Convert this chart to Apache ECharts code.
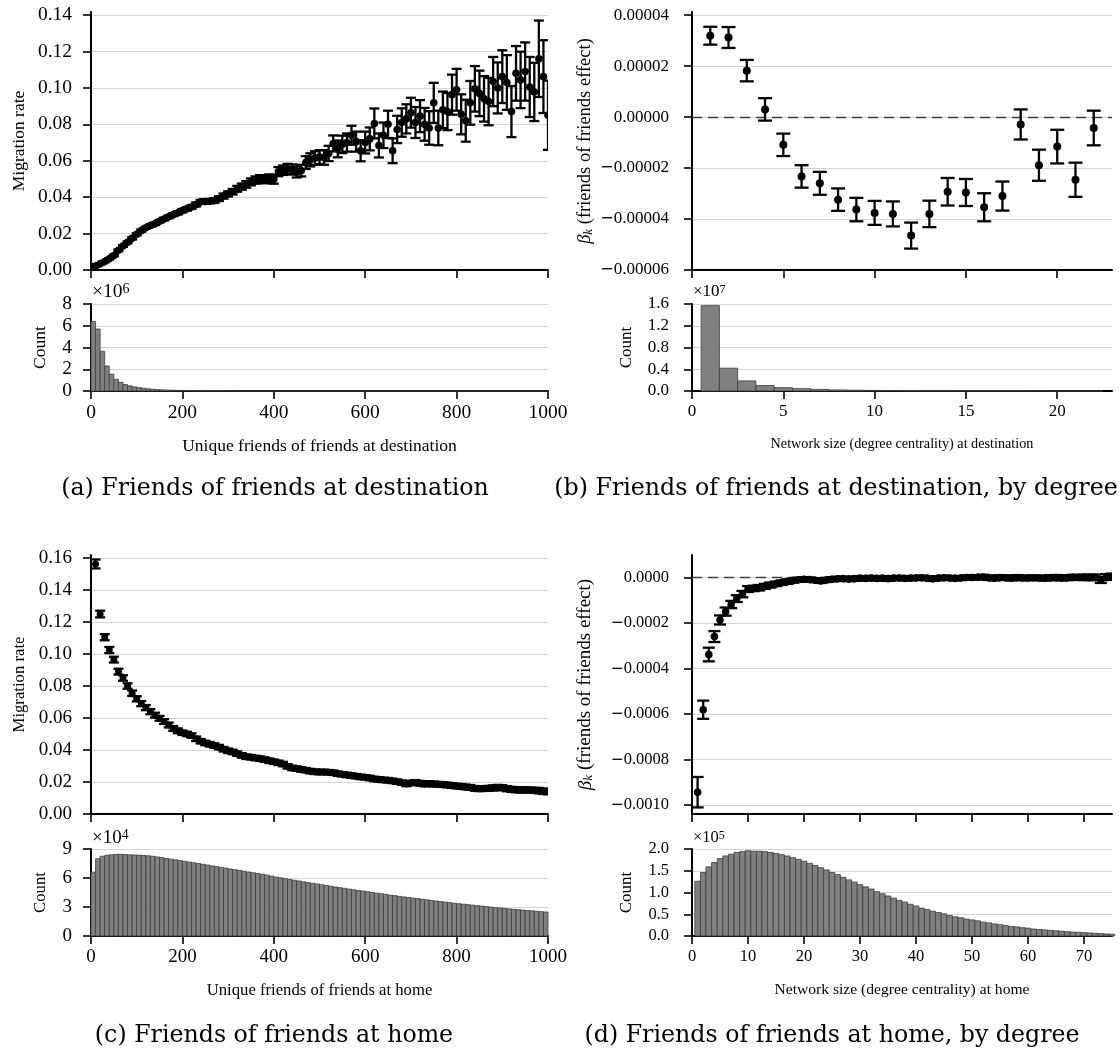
<!DOCTYPE html>
<html><head><meta charset="utf-8">
<script src="https://cdn.jsdelivr.net/npm/echarts@6/dist/echarts.min.js"></script>
<style>html,body{margin:0;padding:0;background:#fff}#c{width:1120px;height:1055px}</style>
</head><body><div id="c"></div>
<script>
// ---------- (a) Friends of friends at destination ----------
const A_X = [0,10,20,30,40,50,60,70,80,90,100,110,120,130,140,150,160,170,180,190,200,210,220,230,240,250,260,270,280,290,300,310,320,330,340,350,360,370,380,390,400,410,420,430,440,450,460,470,480,490,500,510,520,530,540,550,560,570,580,590,600,610,620,630,640,650,660,670,680,690,700,710,720,730,740,750,760,770,780,790,800,810,820,830,840,850,860,870,880,890,900,910,920,930,940,950,960,970,980,990,1000];
const A_RATE = [0.0020,0.0022,0.0034,0.0046,0.0062,0.0080,0.0108,0.0132,0.0152,0.0174,
0.0196,0.0216,0.0232,0.0244,0.0254,0.0268,0.0280,0.0292,0.0304,0.0314,
0.0326,0.0336,0.0346,0.0360,0.0374,0.0376,0.0378,0.0382,0.0392,0.0406,
0.0418,0.0430,0.0446,0.0458,0.0470,0.0484,0.0494,0.0500,0.0498,0.0502,
0.0498,0.0540,0.0548,0.0556,0.0552,0.0538,0.0546,0.0590,0.0605,0.0615,
0.0620,0.0618,0.0640,0.0695,0.0665,0.0690,0.0700,0.0740,0.0705,0.0655,
0.0700,0.0720,0.0805,0.0684,0.0740,0.0800,0.0655,0.0772,0.0810,0.0830,
0.0864,0.0810,0.0845,0.0800,0.0780,0.0918,0.0780,0.0880,0.0870,0.0963,
0.0990,0.0855,0.0820,0.0918,0.0995,0.0970,0.0940,0.0925,0.1035,0.1000,
0.1062,0.1030,0.0870,0.1080,0.1044,0.1090,0.1005,0.0978,0.1160,0.1062,
0.0850];
const A_ERR = [0.0004,0.0004,0.0004,0.0004,0.0004,0.0005,0.0005,0.0005,0.0005,0.0006,
0.0006,0.0006,0.0006,0.0007,0.0007,0.0007,0.0008,0.0008,0.0008,0.0009,
0.0009,0.0010,0.0010,0.0011,0.0011,0.0012,0.0012,0.0013,0.0013,0.0014,
0.0014,0.0015,0.0016,0.0017,0.0018,0.0019,0.0020,0.0021,0.0022,0.0023,
0.0024,0.0025,0.0026,0.0027,0.0028,0.0030,0.0032,0.0035,0.0036,0.0037,
0.0038,0.0040,0.0042,0.0044,0.0046,0.0048,0.0050,0.0052,0.0055,0.0058,
0.0060,0.0063,0.0082,0.0066,0.0070,0.0075,0.0068,0.0075,0.0078,0.0080,
0.0082,0.0085,0.0088,0.0090,0.0092,0.0110,0.0095,0.0100,0.0102,0.0110,
0.0115,0.0110,0.0115,0.0120,0.0125,0.0125,0.0125,0.0130,0.0135,0.0140,
0.0145,0.0150,0.0140,0.0150,0.0155,0.0160,0.0165,0.0160,0.0210,0.0200,
0.0190];
const A_HIST_X = [5,15,25,35,45,55,65,75,85,95,105,115,125,135,145,155,165,175,185,195,205,215,225,235,245,255,265,275,285,295,305,315,325,335,345,355,365,375,385,395,405,415,425,435,445,455,465,475,485,495,505,515,525,535,545,555,565,575,585,595,605,615,625,635,645,655,665,675,685,695,705,715,725,735,745,755,765,775,785,795,805,815,825,835,845,855,865,875,885,895,905,915,925,935,945,955,965,975,985,995];
const A_HIST = [6.40,5.70,3.65,2.30,1.55,1.08,0.80,0.60,0.47,0.38,
0.31,0.25,0.20,0.16,0.13,0.11,0.090,0.075,0.063,0.053,
0.045,0.038,0.032,0.027,0.023,0.020,0.017,0.015,0.013,0.011,
0.010,0.009,0.008,0.007,0.0062,0.0055,0.0049,0.0044,0.0040,0.0036,
0.0032,0.0029,0.0026,0.0024,0.0022,0.0020,0.0018,0.0016,0.0015,0.0014,
0.0013,0.0012,0.0011,0.0010,0.0009,0.0009,0.0008,0.0008,0.0007,0.0007,
0.0006,0.0006,0.0006,0.0005,0.0005,0.0005,0.0004,0.0004,0.0004,0.0004,
0.0003,0.0003,0.0003,0.0003,0.0003,0.0003,0.0002,0.0002,0.0002,0.0002,
0.0002,0.0002,0.0002,0.0002,0.0001,0.0001,0.0001,0.0001,0.0001,0.0001,
0.0001,0.0001,0.0001,0.0001,0.0001,0.0001,0.0001,0.0001,0.0001,0.0001];
const A_Y_TICKS = [0,0.02,0.04,0.06,0.08,0.10,0.12,0.14];
const A_HIST_TICKS = [0,2,4,6,8];
const AC_X_TICKS = [0,200,400,600,800,1000];

// ---------- (b) Friends of friends at destination, by degree ----------
const B_DEG = [1,2,3,4,5,6,7,8,9,10,11,12,13,14,15,16,17,18,19,20,21,22];
const B_BETA = [3.19e-5,3.12e-5,1.82e-5,0.30e-5,-1.09e-5,-2.33e-5,-2.60e-5,-3.24e-5,-3.63e-5,-3.76e-5,-3.80e-5,-4.65e-5,-3.80e-5,-2.93e-5,-2.96e-5,-3.54e-5,-3.10e-5,-0.29e-5,-1.89e-5,-1.16e-5,-2.46e-5,-0.43e-5];
const B_ERR = [0.35e-5,0.41e-5,0.42e-5,0.44e-5,0.44e-5,0.44e-5,0.45e-5,0.44e-5,0.46e-5,0.47e-5,0.49e-5,0.51e-5,0.52e-5,0.54e-5,0.53e-5,0.55e-5,0.57e-5,0.59e-5,0.61e-5,0.66e-5,0.67e-5,0.68e-5];
const B_HIST = [1.57,0.42,0.186,0.10,0.062,0.043,0.030,0.020,0.015,0.011,0.009,0.007,0.0055,0.0045,0.0037,0.0030,0.0025,0.0021,0.0018,0.0015,0.0013,0.0011];
const B_Y_TICKS = [-0.00006,-0.00004,-0.00002,0,0.00002,0.00004];
const B_HIST_TICKS = [0,0.4,0.8,1.2,1.6];
const B_X_TICKS = [0,5,10,15,20];

// ---------- (c) Friends of friends at home ----------
const C_X = [10,20,30,40,50,60,70,80,90,100,110,120,130,140,150,160,170,180,190,200,210,220,230,240,250,260,270,280,290,300,310,320,330,340,350,360,370,380,390,400,410,420,430,440,450,460,470,480,490,500,510,520,530,540,550,560,570,580,590,600,610,620,630,640,650,660,670,680,690,700,710,720,730,740,750,760,770,780,790,800,810,820,830,840,850,860,870,880,890,900,910,920,930,940,950,960,970,980,990,1000];
const C_RATE = [0.1563,0.1250,0.1105,0.1025,0.0965,0.0890,0.0850,0.0800,0.0755,0.0720,
0.0690,0.0665,0.0640,0.0618,0.0598,0.0578,0.0556,0.0535,0.0520,0.0508,
0.0500,0.0490,0.0470,0.0455,0.0444,0.0436,0.0428,0.0418,0.0405,0.0395,
0.0388,0.0377,0.0366,0.0358,0.0355,0.0350,0.0346,0.0340,0.0333,0.0327,
0.0320,0.0312,0.0298,0.0288,0.0284,0.0278,0.0274,0.0268,0.0264,0.0262,
0.0263,0.0261,0.0258,0.0252,0.0248,0.0244,0.0240,0.0236,0.0232,0.0229,
0.0225,0.0219,0.0216,0.0213,0.0211,0.0207,0.0202,0.0196,0.0188,0.0194,
0.0197,0.0192,0.0188,0.0190,0.0187,0.0186,0.0184,0.0181,0.0178,0.0175,
0.0172,0.0169,0.0166,0.0160,0.0158,0.0159,0.0161,0.0163,0.0166,0.0164,
0.0158,0.0154,0.0152,0.0150,0.0151,0.0150,0.0148,0.0146,0.0142,0.0140];
const C_ERR = [0.0028,0.0021,0.0019,0.0019,0.0018,0.0018,0.0017,0.0017,0.0017,0.0016,
0.0016,0.0016,0.0016,0.0015,0.0015,0.0015,0.0015,0.0015,0.0015,0.0014,
0.0014,0.0014,0.0014,0.0014,0.0014,0.0014,0.0014,0.0014,0.0014,0.0014,
0.0014,0.0014,0.0014,0.0014,0.0014,0.0014,0.0014,0.0014,0.0014,0.0014,
0.0014,0.0014,0.0014,0.0014,0.0014,0.0014,0.0014,0.0014,0.0014,0.0014,
0.0014,0.0014,0.0014,0.0014,0.0014,0.0014,0.0014,0.0014,0.0014,0.0014,
0.0014,0.0014,0.0014,0.0014,0.0014,0.0014,0.0014,0.0014,0.0014,0.0014,
0.0015,0.0015,0.0015,0.0015,0.0015,0.0015,0.0015,0.0015,0.0015,0.0015,
0.0015,0.0015,0.0015,0.0015,0.0015,0.0015,0.0015,0.0016,0.0016,0.0016,
0.0016,0.0016,0.0016,0.0016,0.0016,0.0016,0.0016,0.0017,0.0017,0.0017];
const C_HIST_X = A_HIST_X;
const C_HIST = [6.60,8.00,8.25,8.35,8.40,8.45,8.45,8.42,8.40,8.38,
8.36,8.33,8.30,8.25,8.18,8.10,8.02,7.95,7.88,7.80,
7.72,7.65,7.58,7.50,7.42,7.34,7.25,7.17,7.10,7.02,
6.93,6.86,6.78,6.70,6.62,6.54,6.46,6.38,6.30,6.20,
6.10,6.02,5.93,5.85,5.77,5.69,5.60,5.52,5.45,5.38,
5.30,5.22,5.15,5.07,5.00,4.93,4.85,4.78,4.71,4.65,
4.58,4.50,4.43,4.37,4.30,4.23,4.17,4.10,4.04,3.98,
3.92,3.86,3.80,3.74,3.68,3.62,3.56,3.51,3.45,3.39,
3.34,3.29,3.24,3.19,3.14,3.09,3.04,2.99,2.94,2.90,
2.85,2.80,2.76,2.72,2.68,2.64,2.60,2.56,2.52,2.48];
const C_Y_TICKS = [0,0.02,0.04,0.06,0.08,0.10,0.12,0.14,0.16];
const C_HIST_TICKS = [0,3,6,9];

// ---------- (d) Friends of friends at home, by degree ----------
const D_DEG = [1,2,3,4,5,6,7,8,9,10,11,12,13,14,15,16,17,18,19,20,21,22,23,24,25,26,27,28,29,30,31,32,33,34,35,36,37,38,39,40,41,42,43,44,45,46,47,48,49,50,51,52,53,54,55,56,57,58,59,60,61,62,63,64,65,66,67,68,69,70,71,72,73,74,75];
const D_BETA = [-0.000944,-0.000581,-0.000338,-0.000259,-0.000186,-0.000149,-0.000118,-0.000092,-0.000072,-0.000050,
-0.000047,-0.000044,-0.000038,-0.000032,-0.000027,-0.000022,-0.000017,-0.000013,-0.000009,-0.000007,
-0.000008,-0.000011,-0.000014,-0.000010,-0.000007,-0.000005,-0.000004,-0.000006,-0.000004,-0.000002,
-0.000003,-0.000001,-0.000003,-0.000002,-0.000004,-0.000002,-0.000001,-0.000003,-0.000002,-0.000001,
0.000000,-0.000002,-0.000005,-0.000002,0.000000,-0.000001,-0.000003,-0.000001,0.000001,0.000001,
0.000002,0.000003,0.000000,-0.000002,0.000001,0.000000,-0.000002,0.000001,-0.000001,-0.000001,
0.000000,-0.000001,-0.000002,0.000000,0.000001,-0.000001,0.000000,0.000002,0.000001,0.000002,
0.000001,0.000002,-0.000010,0.000003,0.000005];
const D_ERR = [0.000067,0.000040,0.000030,0.000024,0.000020,0.000018,0.000016,0.000015,0.000014,0.000013,
0.000012,0.000012,0.000011,0.000011,0.000010,0.000010,0.000010,0.000009,0.000009,0.000009,
0.000009,0.000009,0.000009,0.000009,0.000009,0.000009,0.000009,0.000009,0.000009,0.000009,
0.000009,0.000009,0.000009,0.000009,0.000009,0.000009,0.000009,0.000009,0.000009,0.000009,
0.000009,0.000009,0.000009,0.000009,0.000009,0.000009,0.000009,0.000009,0.000009,0.000009,
0.000009,0.000010,0.000010,0.000010,0.000010,0.000010,0.000010,0.000010,0.000010,0.000010,
0.000010,0.000010,0.000010,0.000011,0.000011,0.000011,0.000011,0.000011,0.000011,0.000012,
0.000012,0.000012,0.000013,0.000013,0.000013];
const D_HIST = [1.26,1.46,1.59,1.69,1.78,1.84,1.88,1.92,1.94,1.96,
1.95,1.95,1.94,1.92,1.90,1.87,1.84,1.80,1.76,1.72,
1.67,1.62,1.57,1.52,1.46,1.41,1.35,1.29,1.24,1.18,
1.13,1.08,1.02,0.97,0.92,0.87,0.82,0.78,0.73,0.69,
0.64,0.61,0.57,0.54,0.51,0.47,0.44,0.42,0.39,0.37,
0.35,0.32,0.30,0.28,0.26,0.24,0.22,0.21,0.19,0.18,
0.16,0.15,0.14,0.13,0.12,0.11,0.10,0.09,0.085,0.078,
0.070,0.062,0.055,0.048,0.040];
const D_Y_TICKS = [-0.0010,-0.0008,-0.0006,-0.0004,-0.0002,0];
const D_HIST_TICKS = [0,0.5,1.0,1.5,2.0];
const D_X_TICKS = [0,10,20,30,40,50,60,70];

// ---------- helpers ----------
const SERIF = '"Liberation Serif","Times New Roman",serif';
const CAPFONT = '"DejaVu Serif",serif';
function fmt(v, d) { return (v < -1e-12 ? '{m|\u2212}' : '') + Math.abs(v).toFixed(d); }

function yAx(g, min, max, ticks, dec, fs, name, nfs, gap, margin) {
  return {
    type: 'value', gridIndex: g, min: min, max: max,
    axisLine: { show: true, onZero: false, lineStyle: { color: '#000', width: 2 } },
    axisTick: { show: true, length: 8, lineStyle: { color: '#000', width: 1.6 }, customValues: ticks },
    axisLabel: { show: true, customValues: ticks, formatter: v => fmt(v, dec), fontFamily: SERIF, fontSize: fs, color: '#000', margin: margin,
      rich: { m: { fontFamily: '"DejaVu Sans",sans-serif', fontSize: fs * 0.95, color: '#000' } } },
    splitLine: { show: true, lineStyle: { color: '#d4d4d4', width: 1.2 } },
    name: name, nameLocation: 'middle', nameRotate: 90, nameGap: gap,
    nameTextStyle: { fontFamily: SERIF, fontSize: nfs, color: '#000',
      rich: {
        b: { fontFamily: SERIF, fontSize: nfs, fontStyle: 'italic', color: '#000' },
        k: { fontFamily: SERIF, fontSize: nfs * 0.7, fontStyle: 'italic', color: '#000', verticalAlign: 'bottom' },
        t: { fontFamily: SERIF, fontSize: nfs, color: '#000' }
      } }
  };
}
function xAx(g, min, max, ticks, showLabel, fs, name, nfs, gap) {
  return {
    type: 'value', gridIndex: g, min: min, max: max,
    axisLine: { show: true, onZero: false, lineStyle: { color: '#000', width: 2 } },
    axisTick: { show: true, length: 8, lineStyle: { color: '#000', width: 1.6 }, customValues: ticks },
    axisLabel: { show: showLabel, customValues: ticks, formatter: v => String(v), fontFamily: SERIF, fontSize: fs, color: '#000', margin: 12 },
    splitLine: { show: false },
    name: name || '', nameLocation: 'middle', nameGap: gap || 0,
    nameTextStyle: { fontFamily: SERIF, fontSize: nfs || fs, color: '#000' }
  };
}
function errSeries(i, xs, ys, es, cap, r) {
  return {
    type: 'custom', xAxisIndex: i, yAxisIndex: i, z: 5, clip: true,
    data: xs.map((x, k) => [x, ys[k], es[k]]),
    renderItem: function (params, api) {
      const x = api.value(0), y = api.value(1), e = api.value(2);
      const p = api.coord([x, y]), t = api.coord([x, y + e]), b = api.coord([x, y - e]);
      const st = { stroke: '#000', lineWidth: 2.3 };
      return { type: 'group', children: [
        { type: 'line', shape: { x1: p[0], y1: t[1], x2: p[0], y2: b[1] }, style: st },
        { type: 'line', shape: { x1: p[0] - cap, y1: t[1], x2: p[0] + cap, y2: t[1] }, style: st },
        { type: 'line', shape: { x1: p[0] - cap, y1: b[1], x2: p[0] + cap, y2: b[1] }, style: st },
        { type: 'circle', shape: { cx: p[0], cy: p[1], r: r }, style: { fill: '#000' } }
      ] };
    }
  };
}
function histSeries(i, xs, ys, w) {
  return {
    type: 'custom', xAxisIndex: i, yAxisIndex: i, z: 3,
    data: xs.map((x, k) => [x, ys[k]]),
    renderItem: function (params, api) {
      const x = api.value(0), y = api.value(1);
      const p0 = api.coord([x - w / 2, y]), p1 = api.coord([x + w / 2, 0]);
      return { type: 'rect', shape: { x: p0[0], y: p0[1], width: p1[0] - p0[0], height: p1[1] - p0[1] },
        style: { fill: '#808080', stroke: '#3c3c3c', lineWidth: 0.8 } };
    }
  };
}
function zeroLine(i) {
  return { type: 'line', xAxisIndex: i, yAxisIndex: i, data: [], z: 4, silent: true,
    markLine: { silent: true, symbol: 'none', label: { show: false },
      lineStyle: { type: [10, 6], color: '#3a3a3a', width: 1.4 }, data: [{ yAxis: 0 }] } };
}
function mult(x, y, fs, base, exp) {
  return { type: 'text', x: x, y: y, style: { text: '{a|' + base + '}{s|' + exp + '}', fill: '#000', verticalAlign: 'middle',
    rich: { a: { fontFamily: SERIF, fontSize: fs, fill: '#000', verticalAlign: 'bottom' },
            s: { fontFamily: SERIF, fontSize: fs * 0.72, fill: '#000', verticalAlign: 'top' } } } };
}
function caption(x, y, t) {
  return { type: 'text', x: x, y: y, style: { text: t, font: '23.7px ' + CAPFONT, fill: '#000', align: 'center', verticalAlign: 'middle' } };
}

const FA = 19.5, FB = 17, FC = 19, FD = 16.5;
const TA = 17.5, TB = 14.2, TC = 16.7, TD = 15.6;
const L1 = 91, W1 = 457, L2 = 692, W2 = 420;

const option = {
  animation: false,
  backgroundColor: '#fff',
  grid: [
    { left: L1, width: W1, top: 12, height: 258, outerBoundsMode: 'none', containLabel: false },
    { left: L1, width: W1, top: 304, height: 87, outerBoundsMode: 'none', containLabel: false },
    { left: L2, width: W2, top: 12, height: 258, outerBoundsMode: 'none', containLabel: false },
    { left: L2, width: W2, top: 304, height: 87, outerBoundsMode: 'none', containLabel: false },
    { left: L1, width: W1, top: 555, height: 259, outerBoundsMode: 'none', containLabel: false },
    { left: L1, width: W1, top: 849, height: 87, outerBoundsMode: 'none', containLabel: false },
    { left: L2, width: W2, top: 555, height: 259, outerBoundsMode: 'none', containLabel: false },
    { left: L2, width: W2, top: 849, height: 87, outerBoundsMode: 'none', containLabel: false }
  ],
  xAxis: [
    xAx(0, 0, 1000, AC_X_TICKS, false, FA),
    xAx(1, 0, 1000, AC_X_TICKS, true, FA, 'Unique friends of friends at destination', TA, 46),
    xAx(2, 0, 23, B_X_TICKS, false, FB),
    xAx(3, 0, 23, B_X_TICKS, true, FB, 'Network size (degree centrality) at destination', TB, 46),
    xAx(4, 0, 1000, AC_X_TICKS, false, FC),
    xAx(5, 0, 1000, AC_X_TICKS, true, FC, 'Unique friends of friends at home', TC, 46),
    xAx(6, 0, 75, D_X_TICKS, false, FD),
    xAx(7, 0, 75, D_X_TICKS, true, FD, 'Network size (degree centrality) at home', TD, 46)
  ],
  yAxis: [
    yAx(0, 0, 0.1417, A_Y_TICKS, 2, FA, 'Migration rate', TA, 63, 19),
    yAx(1, 0, 8, A_HIST_TICKS, 0, FA, 'Count', TA, 42, 19),
    yAx(2, -0.00006, 0.0000412, B_Y_TICKS, 5, FB, '{b|β}{k|k}{t| (friends of friends effect)}', 18.5, 97, 23),
    yAx(3, 0, 1.6, B_HIST_TICKS, 1, FB, 'Count', 17, 57, 23),
    yAx(4, 0, 0.1619, C_Y_TICKS, 2, FC, 'Migration rate', TC, 63, 19),
    yAx(5, 0, 9, C_HIST_TICKS, 0, FC, 'Count', TC, 42, 19),
    yAx(6, -0.00104, 0.0001, D_Y_TICKS, 4, FD, '{b|β}{k|k}{t| (friends of friends effect)}', 19, 97, 23),
    yAx(7, 0, 2.0, D_HIST_TICKS, 1, FD, 'Count', 17, 57, 23)
  ],
  series: [
    errSeries(0, A_X, A_RATE, A_ERR, 5, 3.8),
    histSeries(1, A_HIST_X, A_HIST, 10),
    zeroLine(2),
    errSeries(2, B_DEG, B_BETA, B_ERR, 7, 4),
    histSeries(3, B_DEG, B_HIST, 1),
    errSeries(4, C_X, C_RATE, C_ERR, 5, 3.5),
    histSeries(5, C_HIST_X, C_HIST, 10),
    zeroLine(6),
    errSeries(6, D_DEG, D_BETA, D_ERR, 6, 3.8),
    histSeries(7, D_DEG, D_HIST, 1)
  ],
  graphic: [
    mult(92, 292, FA, '\u00d710', '6'),
    mult(693, 292, FB, '\u00d710', '7'),
    mult(92, 838, FC, '\u00d710', '4'),
    mult(693, 838, FD, '\u00d710', '5'),
    caption(275, 489, '(a) Friends of friends at destination'),
    caption(836, 489, '(b) Friends of friends at destination, by degree'),
    caption(274, 1036, '(c) Friends of friends at home'),
    caption(832, 1036, '(d) Friends of friends at home, by degree')
  ]
};
const chart = echarts.init(document.getElementById('c'), null, { renderer: 'canvas' });
chart.setOption(option);
</script></body></html>
